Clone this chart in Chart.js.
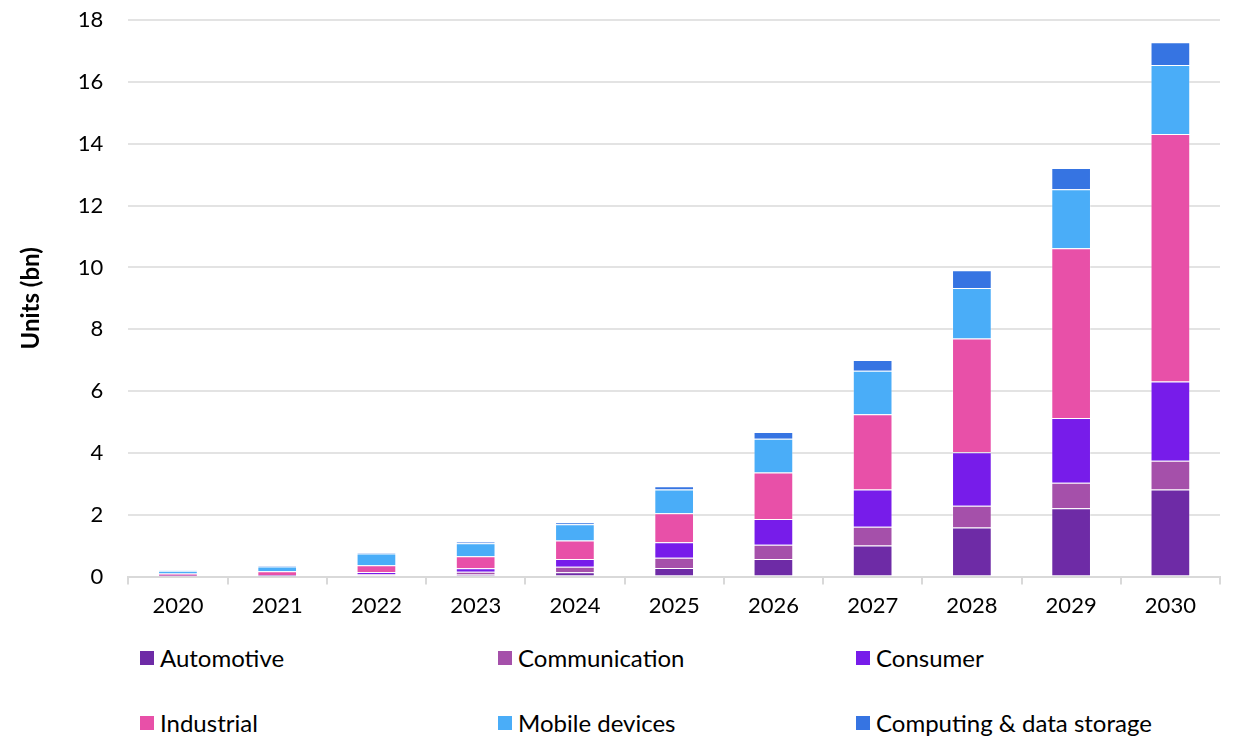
<!DOCTYPE html>
<html>
<head>
<meta charset="utf-8">
<script src="https://cdn.jsdelivr.net/npm/chart.js@4"></script>
<style>
  html, body { margin: 0; padding: 0; background: #fff; }
  body { width: 1236px; height: 739px; position: relative; overflow: hidden; font-family: Lato, "Open Sans", sans-serif; }
  #wrap { position: absolute; left: 0; top: -18px; width: 1236px; height: 645px; }
  #legend { position: absolute; left: 140px; top: 643px; display: grid; grid-template-columns: 358px 358px 358px; row-gap: 36px; }
  .item { display: flex; align-items: center; font-size: 24px; color: #000; height: 29px; }
  .box { width: 14px; height: 14px; margin-right: 6px; }
</style>
</head>
<body>
<div id="wrap"><canvas id="chart"></canvas></div>
<div id="legend"></div>
<script>
const years = ['2020', '2021', '2022', '2023', '2024', '2025', '2026', '2027', '2028', '2029', '2030'];

const automotive    = [0.01, 0.01, 0.04, 0.08, 0.14, 0.28, 0.57, 1.01, 1.59, 2.21, 2.82];
const communication = [0.01, 0.02, 0.04, 0.08, 0.18, 0.33, 0.46, 0.60, 0.70, 0.83, 0.93];
const consumer      = [0.01, 0.01, 0.07, 0.11, 0.25, 0.50, 0.83, 1.21, 1.73, 2.09, 2.56];
const industrial    = [0.07, 0.13, 0.22, 0.39, 0.60, 0.94, 1.51, 2.43, 3.68, 5.49, 8.01];
const mobile        = [0.09, 0.16, 0.38, 0.42, 0.52, 0.77, 1.09, 1.41, 1.64, 1.91, 2.23];
const computing     = [0.01, 0.02, 0.02, 0.05, 0.07, 0.10, 0.22, 0.35, 0.57, 0.69, 0.74];

const seriesNames  = ['Automotive', 'Communication', 'Consumer', 'Industrial', 'Mobile devices', 'Computing & data storage'];
const seriesColors = ['#6E2BA6', '#A550AA', '#771CEA', '#E850A8', '#4AADF8', '#3674E2'];
const seriesValues = [automotive, communication, consumer, industrial, mobile, computing];

const yTicks = [0, 2, 4, 6, 8, 10, 12, 14, 16, 18];

const datasets = seriesNames.map((name, i) => ({
  label: name,
  data: seriesValues[i],
  backgroundColor: seriesColors[i],
  borderColor: 'rgba(255,255,255,0.3)',
  borderWidth: 1,
  barPercentage: 0.4,
  categoryPercentage: 1.0
}));

const ctx = document.getElementById('chart').getContext('2d');

new Chart(ctx, {
  type: 'bar',
  data: { labels: years, datasets },
  options: {
    responsive: true,
    maintainAspectRatio: false,
    animation: false,
    layout: { padding: { top: 10, right: 16, left: 17, bottom: 0 } },
    scales: {
      x: {
        stacked: true,
        offset: true,
        grid: { display: true, drawOnChartArea: false, offset: true, color: '#d9d9d9', lineWidth: 2, tickLength: 8 },
        border: { color: '#d9d9d9', width: 2 },
        ticks: { color: '#000', font: { family: 'Lato', size: 22 }, padding: 8, maxRotation: 0 }
      },
      y: {
        stacked: true,
        min: 0,
        max: 18,
        afterBuildTicks: axis => { axis.ticks = yTicks.map(v => ({ value: v })); },
        grid: { color: '#e3e3e3', lineWidth: 2, drawTicks: false },
        border: { display: false },
        ticks: { color: '#000', font: { family: 'Lato', size: 22 }, padding: 25 },
        title: { display: true, text: 'Units (bn)', color: '#000', font: { family: 'Lato', size: 24, weight: 'bold' }, padding: { top: 0, bottom: 7 } }
      }
    },
    plugins: {
      legend: { display: false },
      tooltip: { enabled: false }
    }
  }
});

const legend = document.getElementById('legend');
seriesNames.forEach((name, i) => {
  const item = document.createElement('div');
  item.className = 'item';
  item.innerHTML = `<span class="box" style="background:${seriesColors[i]}"></span><span></span>`;
  item.lastChild.textContent = name;
  legend.appendChild(item);
});
</script>
</body>
</html>
